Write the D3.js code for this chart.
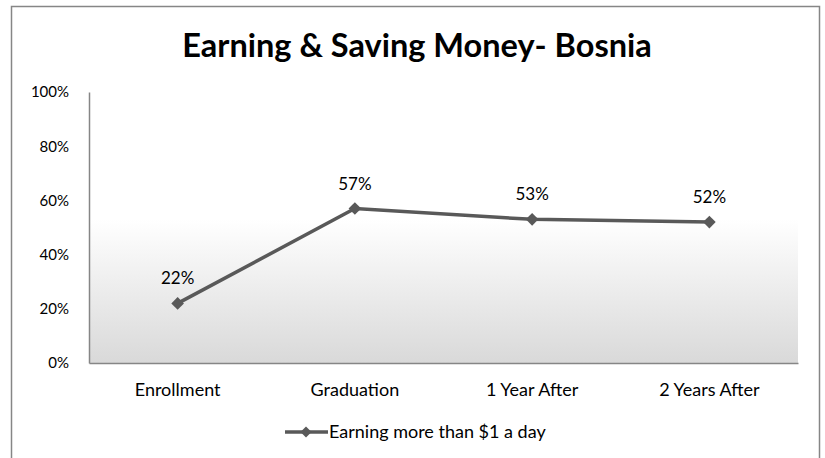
<!DOCTYPE html>
<html>
  <head>
    <title>Earning & Saving Money- Bosnia</title>
    <script src="https://cdn.jsdelivr.net/npm/d3@7/dist/d3.min.js"></script>
    <style>
      body { margin: 0; background: #fff; }
      svg { display: block; }
      text { font-family: Lato, "Open Sans", sans-serif; }
    </style>
  </head>
  <body>
    <svg width="825" height="458"></svg>

    <script>
      // chart data
      const categories = ["Enrollment", "Graduation", "1 Year After", "2 Years After"];
      const values = [0.22, 0.57, 0.53, 0.52];
      const yTicks = [0, 0.2, 0.4, 0.6, 0.8, 1.0];
      const seriesName = "Earning more than $1 a day";

      const svg = d3.select("svg");
      const margin = { top: 92, right: 27, bottom: 95, left: 89 };
      const width = +svg.attr("width");
      const height = +svg.attr("height");
      const innerWidth = width - margin.left - margin.right;
      const innerHeight = height - margin.top - margin.bottom;

      const lineColor = "#595959";
      const axisColor = "#868686";
      const font = "Lato, 'Open Sans', sans-serif";

      // outer chart frame: top, left and right edges only (bottom is below the window)
      svg.append("path")
        .attr("d", `M11.5,${height} V6.5 H819.5 V${height}`)
        .attr("fill", "none")
        .attr("stroke", axisColor)
        .attr("stroke-width", 1.5);

      const defs = svg.append("defs");
      const grad = defs.append("linearGradient")
        .attr("id", "plotFill")
        .attr("x1", 0).attr("y1", 0).attr("x2", 0).attr("y2", 1);
      grad.append("stop").attr("offset", "0").attr("stop-color", "#ffffff");
      grad.append("stop").attr("offset", "0.47").attr("stop-color", "#ffffff");
      grad.append("stop").attr("offset", "1").attr("stop-color", "#d9d9d9");

      svg.append("text")
        .attr("x", 417).attr("y", 57)
        .attr("text-anchor", "middle")
        .attr("font-size", 32.5)
        .attr("font-weight", "bold")
        .attr("fill", "#000")
        .text("Earning & Saving Money- Bosnia");

      const g = svg.append("g")
        .attr("transform", `translate(${margin.left},${margin.top})`);

      const x = d3.scaleBand()
        .domain(categories)
        .range([0, innerWidth]);

      const y = d3.scaleLinear()
        .domain([0, 1])
        .range([innerHeight, 0]);

      g.append("rect")
        .attr("width", innerWidth)
        .attr("height", innerHeight)
        .attr("fill", "url(#plotFill)");

      const yAxisG = g.append("g")
        .call(d3.axisLeft(y).tickValues(yTicks).tickFormat(d3.format(".0%")).tickSize(0).tickPadding(20));
      yAxisG.select(".domain").attr("stroke", axisColor).attr("stroke-width", 1.5);
      yAxisG.selectAll("text").attr("font-size", 15).attr("fill", "#000")
        .attr("font-family", font);

      const xAxisG = g.append("g")
        .attr("transform", `translate(0,${innerHeight})`)
        .call(d3.axisBottom(x).tickSize(0).tickPadding(20));
      xAxisG.select(".domain").attr("stroke", axisColor).attr("stroke-width", 1.5);
      xAxisG.selectAll("text").attr("font-size", 18).attr("fill", "#000")
        .attr("font-family", font);

      const pts = categories.map((c, i) => ({ c: c, v: values[i] }));

      g.append("path")
        .datum(pts)
        .attr("fill", "none")
        .attr("stroke", lineColor)
        .attr("stroke-width", 3.5)
        .attr("d", d3.line()
          .x(d => x(d.c) + x.bandwidth() / 2)
          .y(d => y(d.v)));

      g.selectAll(".marker")
        .data(pts)
        .enter().append("path")
          .attr("class", "marker")
          .attr("transform", d => `translate(${x(d.c) + x.bandwidth() / 2},${y(d.v)}) rotate(45)`)
          .attr("d", d3.symbol().type(d3.symbolSquare).size(80))
          .attr("fill", lineColor);

      g.selectAll(".label")
        .data(pts)
        .enter().append("text")
          .attr("class", "label")
          .attr("x", d => x(d.c) + x.bandwidth() / 2)
          .attr("y", d => y(d.v) - 19)
          .attr("text-anchor", "middle")
          .attr("font-size", 17)
          .attr("fill", "#000")
          .text(d => d3.format(".0%")(d.v));

      // legend
      const legend = svg.append("g").attr("transform", "translate(285,432)");
      legend.append("line")
        .attr("x1", 0).attr("x2", 43)
        .attr("stroke", lineColor).attr("stroke-width", 3.5);
      legend.append("path")
        .attr("transform", "translate(21,0) rotate(45)")
        .attr("d", d3.symbol().type(d3.symbolSquare).size(60))
        .attr("fill", lineColor);
      legend.append("text")
        .attr("x", 44).attr("y", 6)
        .attr("font-size", 18)
        .attr("fill", "#000")
        .text(seriesName);
    </script>
  </body>
</html>
